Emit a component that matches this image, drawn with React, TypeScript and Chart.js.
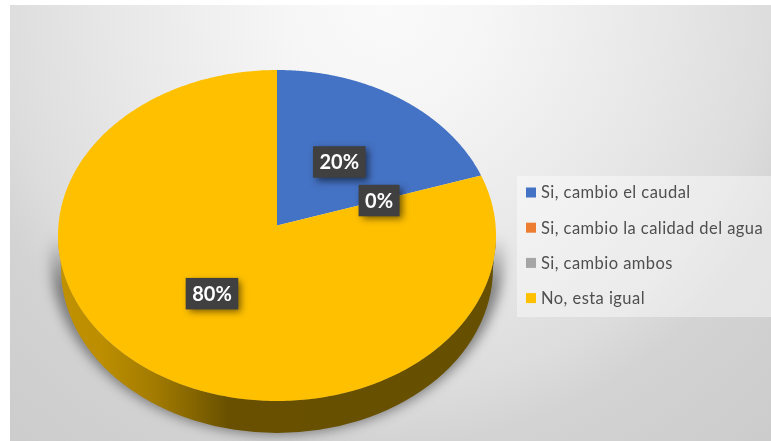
import React, { useEffect, useRef } from "react";
import { Chart, registerables } from "chart.js";

Chart.register(...registerables);

const categories = ["Si, cambio el caudal", "Si, cambio la calidad del agua", "Si, cambio ambos", "No, esta igual"];
const seriesValues = [20, 0, 0, 80];
const dataLabels = ["20%", "0%", "", "80%"];
const sliceColors = ["#4472C4", "#ED7D31", "#A5A5A5", "#FFC000"];

const ASPECT = 219 / 165.5;
const TILT = 0.06;
const DEPTH = 32;
const FONT = "Lato, 'Open Sans', sans-serif";
const LABEL_NUDGE = [[1, 0], [0, 0], [0, 0], [2.5, -2]];

// Maps a pie angle onto the tilted disc, with the apex shifted as in a perspective view.
function project(el: any, a: number) {
  const X = Math.cos(a), Y = Math.sin(a);
  const den = 1 - TILT * Y;
  return {
    x: el.x + el.outerRadius * ASPECT * (X * Math.sqrt(1 - TILT * TILT)) / den,
    y: el.y + el.outerRadius * ((Y - TILT) / den),
  };
}
const apex = (el: any) => ({ x: el.x, y: el.y - el.outerRadius * TILT });

const wallPath = (ctx: CanvasRenderingContext2D, el: any) => {
  const rx = el.outerRadius * ASPECT, ry = el.outerRadius;
  ctx.beginPath();
  ctx.ellipse(el.x, el.y, rx, ry, 0, 0, Math.PI, false);
  ctx.lineTo(el.x - rx + 3, el.y + DEPTH);
  ctx.ellipse(el.x, el.y + DEPTH + 1, rx - 3, ry - 1, 0, Math.PI, 0, true);
  ctx.closePath();
};

const pie3d = {
  id: "pie3d",
  beforeDraw(chart: any) {
    const { ctx, width, height } = chart;
    const g = ctx.createRadialGradient(385, 5, 0, 385, 5, 580);
    g.addColorStop(0, "#fafafa");
    g.addColorStop(0.17, "#f6f6f6");
    g.addColorStop(0.46, "#e8e8e8");
    g.addColorStop(0.66, "#dddddd");
    g.addColorStop(0.76, "#d3d3d3");
    g.addColorStop(1, "#cccccc");
    ctx.fillStyle = g;
    ctx.fillRect(10, 5, width - 10, height - 5);
  },
  beforeDatasetsDraw(chart: any) {
    const { ctx } = chart;
    const arcs = chart.getDatasetMeta(0).data;
    const first = arcs[0];
    const { x, y, outerRadius } = first;
    const rx = outerRadius * ASPECT;

    // soft shadow, fading out towards the disc's widest line
    ctx.save();
    const fade = ctx.createLinearGradient(0, y, 0, y + 50);
    fade.addColorStop(0, "rgba(70,70,70,0)");
    fade.addColorStop(1, "rgba(70,70,70,0.62)");
    ctx.filter = "blur(6px)";
    ctx.fillStyle = fade;
    ctx.beginPath();
    ctx.ellipse(x, y + DEPTH - 12, rx + 8, outerRadius + 14, 0, 0, Math.PI * 2);
    ctx.fill();
    ctx.restore();

    // side wall
    const wall = ctx.createLinearGradient(x - rx, 0, x + rx, 0);
    wall.addColorStop(0, "#c09100");
    wall.addColorStop(0.1, "#bc8e00");
    wall.addColorStop(0.22, "#a27b00");
    wall.addColorStop(0.31, "#856500");
    wall.addColorStop(0.39, "#685000");
    wall.addColorStop(1, "#665000");
    ctx.fillStyle = wall;
    wallPath(ctx, first);
    ctx.fill();

    // top surface
    arcs.forEach((el: any, i: number) => {
      if (el.endAngle - el.startAngle <= 0) return;
      const c = apex(el);
      ctx.beginPath();
      ctx.moveTo(c.x, c.y);
      const steps = 360;
      for (let s = 0; s <= steps; s++) {
        const p = project(el, el.startAngle + ((el.endAngle - el.startAngle) * s) / steps);
        ctx.lineTo(p.x, p.y);
      }
      ctx.closePath();
      ctx.fillStyle = sliceColors[i];
      ctx.fill();
    });
    return false;
  },
  afterDraw(chart: any) {
    const { ctx } = chart;
    const arcs = chart.getDatasetMeta(0).data;

    // data labels
    arcs.forEach((el: any, i: number) => {
      const text = dataLabels[i];
      if (!text) return;
      const mid = (el.startAngle + el.endAngle) / 2;
      const c = apex(el);
      const p = project(el, mid);
      const lx = (c.x + p.x) / 2 + LABEL_NUDGE[i][0];
      const ly = (c.y + p.y) / 2 + LABEL_NUDGE[i][1];
      ctx.font = `bold 20px ${FONT}`;
      const w = ctx.measureText(text).width + 13;
      const h = 31.5;
      ctx.save();
      ctx.shadowColor = "rgba(0,0,0,0.55)";
      ctx.shadowBlur = 7;
      ctx.shadowOffsetX = 3;
      ctx.shadowOffsetY = 3;
      ctx.fillStyle = "#404040";
      ctx.fillRect(lx - w / 2, ly - h / 2, w, h);
      ctx.restore();
      ctx.fillStyle = "#ffffff";
      ctx.textAlign = "center";
      ctx.textBaseline = "middle";
      ctx.fillText(text, lx, ly + 1);
    });

    // legend
    ctx.fillStyle = "rgba(255,255,255,0.42)";
    ctx.fillRect(517, 176, 254, 141);
    categories.forEach((label, i) => {
      const cy = 192.5 + i * 35.2;
      ctx.fillStyle = sliceColors[i];
      ctx.fillRect(526, cy - 5, 10, 10);
      ctx.fillStyle = "#4f4f4f";
      ctx.font = `16.5px ${FONT}`;
      (ctx as any).letterSpacing = "0.45px";
      ctx.textAlign = "left";
      ctx.textBaseline = "middle";
      ctx.fillText(label, 541, cy + 0.5);
      (ctx as any).letterSpacing = "0px";
    });
  },
};

export default function App() {
  const ref = useRef<HTMLCanvasElement>(null);
  useEffect(() => {
    const chart = new Chart(ref.current!, {
      type: "pie",
      data: {
        labels: categories,
        datasets: [{ data: seriesValues, backgroundColor: sliceColors, borderWidth: 0 }],
      },
      options: {
        animation: false,
        responsive: false,
        devicePixelRatio: 1,
        layout: { padding: { left: 111.5, right: 328.5, top: 70, bottom: 40 } },
        plugins: { legend: { display: false }, tooltip: { enabled: false } },
      },
      plugins: [pie3d],
    } as any);
    return () => chart.destroy();
  }, []);
  return (
    <canvas
      ref={ref}
      width={771}
      height={441}
      style={{ position: "fixed", left: 0, top: 0, width: 771, height: 441 }}
    />
  );
}
